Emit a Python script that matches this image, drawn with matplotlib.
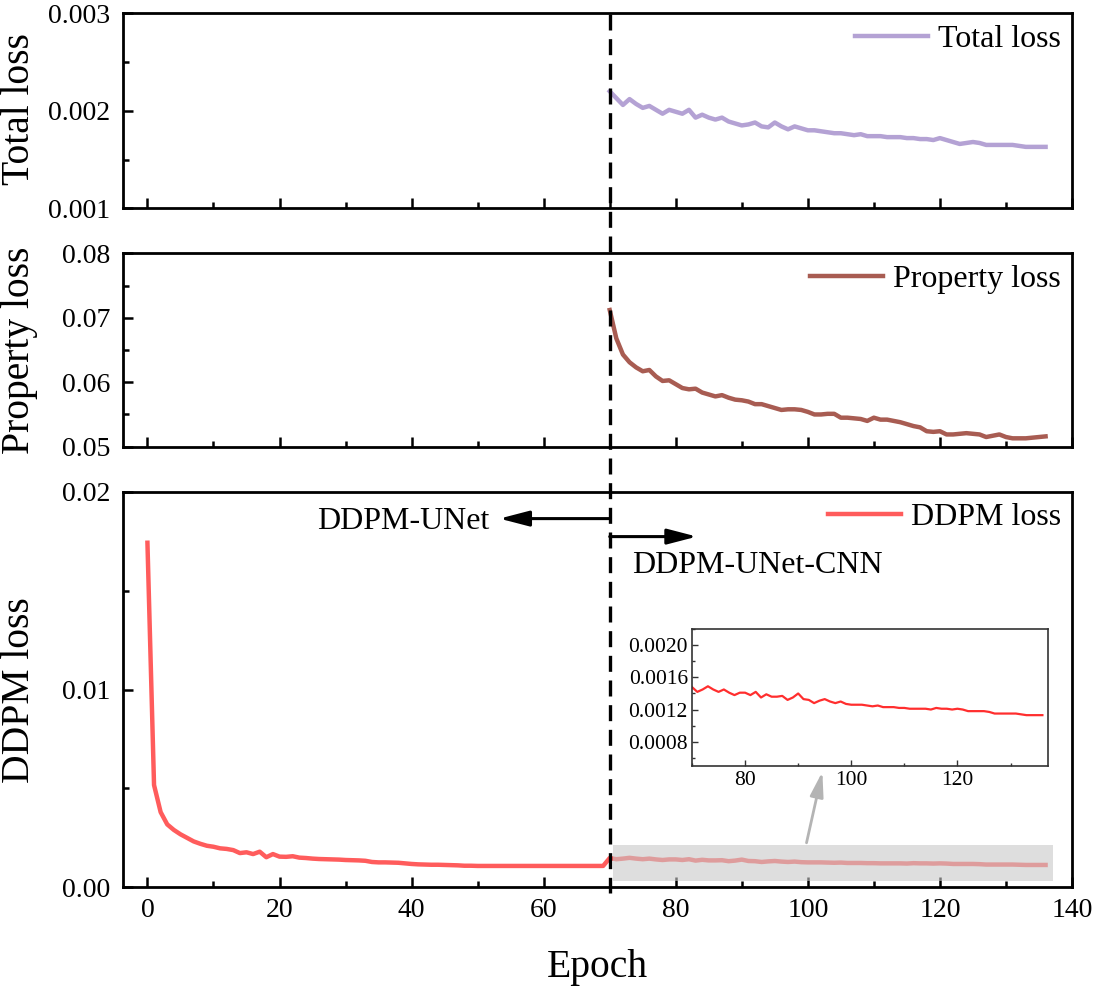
import numpy as np
import matplotlib
matplotlib.use("Agg")
import matplotlib.pyplot as plt
from matplotlib.ticker import MultipleLocator, StrMethodFormatter
from matplotlib.transforms import blended_transform_factory
from matplotlib.patches import Rectangle
from matplotlib.lines import Line2D

plt.rcParams['font.family'] = ['Liberation Serif', 'DejaVu Serif']
plt.rcParams['mathtext.fontset'] = 'stix'

# ---------------- data ----------------
switch_epoch = 70

total_loss = [
    0.00220, 0.00213, 0.00206, 0.00212, 0.00207, 0.00203, 0.00205, 0.00201, 0.00197, 0.00201,
    0.00199, 0.00197, 0.00201, 0.00193, 0.00196, 0.00193, 0.00191, 0.00193, 0.00189, 0.00187,
    0.00185, 0.00186, 0.00188, 0.00184, 0.00183, 0.00188, 0.00184, 0.00181, 0.00184, 0.00182,
    0.00180, 0.00180, 0.00179, 0.00178, 0.00177, 0.00177, 0.00176, 0.00175, 0.00176, 0.00174,
    0.00174, 0.00174, 0.00173, 0.00173, 0.00173, 0.00172, 0.00172, 0.00171, 0.00171, 0.00170,
    0.00172, 0.00170, 0.00168, 0.00166, 0.00167, 0.00168, 0.00167, 0.00165, 0.00165, 0.00165,
    0.00165, 0.00165, 0.00164, 0.00163, 0.00163, 0.00163, 0.00163,
]

property_loss = [
    0.0712, 0.0668, 0.0643, 0.0631, 0.0623, 0.0617, 0.0619, 0.0609, 0.0602, 0.0603,
    0.0597, 0.0591, 0.0589, 0.0590, 0.0584, 0.0581, 0.0578, 0.0580, 0.0576, 0.0573,
    0.0572, 0.0570, 0.0566, 0.0566, 0.0563, 0.0560, 0.0557, 0.0558, 0.0558, 0.0557,
    0.0554, 0.0550, 0.0550, 0.0551, 0.0551, 0.0545, 0.0545, 0.0544, 0.0543, 0.0540,
    0.0545, 0.0542, 0.0542, 0.0540, 0.0538, 0.0535, 0.0532, 0.0530, 0.0524, 0.0523,
    0.0524, 0.0519, 0.0519, 0.0520, 0.0521, 0.0520, 0.0519, 0.0515, 0.0517, 0.0519,
    0.0515, 0.0513, 0.0513, 0.0513, 0.0514, 0.0515, 0.0516,
]

ddpm_loss = [
    0.01742, 0.00517, 0.00380, 0.00318, 0.00290, 0.00268, 0.00250, 0.00232, 0.00220, 0.00210,
    0.00205, 0.00197, 0.00194, 0.00188, 0.00173, 0.00177, 0.00168, 0.00180, 0.00152, 0.00168,
    0.00155, 0.00154, 0.00157, 0.00150, 0.00148, 0.00145, 0.00143, 0.00142, 0.00141, 0.00140,
    0.00138, 0.00137, 0.00136, 0.00134, 0.00128, 0.00126, 0.00126, 0.00125, 0.00124, 0.00121,
    0.00118, 0.00116, 0.00115, 0.00114, 0.00114, 0.00113, 0.00112, 0.00111, 0.00109, 0.00109,
    0.00108, 0.00108, 0.00108, 0.00108, 0.00108, 0.00108, 0.00108, 0.00108, 0.00108, 0.00108,
    0.00108, 0.00108, 0.00108, 0.00108, 0.00108, 0.00108, 0.00108, 0.00108, 0.00108, 0.00108,
    0.00148, 0.00142, 0.00145, 0.00149, 0.00145, 0.00142, 0.00145, 0.00141, 0.00138, 0.00141,
    0.00141, 0.00138, 0.00142, 0.00135, 0.00139, 0.00136, 0.00136, 0.00137, 0.00132, 0.00135,
    0.00140, 0.00133, 0.00132, 0.00128, 0.00131, 0.00133, 0.00130, 0.00128, 0.00130, 0.00127,
    0.00126, 0.00126, 0.00126, 0.00125, 0.00124, 0.00125, 0.00123, 0.00123, 0.00123, 0.00122,
    0.00122, 0.00121, 0.00121, 0.00121, 0.00121, 0.00120, 0.00122, 0.00121, 0.00121, 0.00120,
    0.00121, 0.00120, 0.00118, 0.00118, 0.00118, 0.00118, 0.00117, 0.00115, 0.00115, 0.00115,
    0.00115, 0.00115, 0.00114, 0.00113, 0.00113, 0.00113, 0.00113,
]

epochs_ddpm = np.arange(len(ddpm_loss))
epochs_cnn = switch_epoch + np.arange(len(total_loss))

x_ticks = [0, 20, 40, 60, 80, 100, 120, 140]
inset_x_ticks = [80, 100, 120]
inset_y_ticks = [0.0008, 0.0012, 0.0016, 0.0020]

# ---------------- styling ----------------
c_total = '#B4A2D4'
c_prop = '#A85C52'
c_ddpm = '#FF5C5C'
c_inset = '#FF2E2E'

W, H = 1100, 994
fig = plt.figure(figsize=(W / 100, H / 100), dpi=100)

left, width = 123 / W, (1072 - 123) / W
ax1 = fig.add_axes([left, 1 - 208.3 / H, width, 195 / H])
ax2 = fig.add_axes([left, 1 - 446.7 / H, width, 193.4 / H])
ax3 = fig.add_axes([left, 1 - 887.3 / H, width, 395.6 / H])

for ax in (ax1, ax2, ax3):
    ax.set_xlim(-3.7, 140)
    ax.set_xticks(x_ticks)
    ax.xaxis.set_minor_locator(MultipleLocator(10))
    ax.tick_params(which='both', direction='in', top=False, right=False,
                   labelsize=20, width=1.8)
    ax.tick_params(which='major', length=7)
    ax.tick_params(which='minor', length=4.5)
    ax.tick_params(axis='x', pad=8)
    ax.tick_params(axis='y', pad=9)
    for s in ax.spines.values():
        s.set_linewidth(2.0)

# top panel
ax1.plot(epochs_cnn, total_loss, color=c_total, lw=3.2, label='Total loss')
ax1.set_ylim(0.001, 0.003)
ax1.set_yticks([0.001, 0.002, 0.003])
ax1.yaxis.set_minor_locator(MultipleLocator(0.0005))
ax1.yaxis.set_major_formatter(StrMethodFormatter('{x:.3f}'))
ax1.tick_params(axis='x', labelbottom=False)

# middle panel
ax2.plot(epochs_cnn, property_loss, color=c_prop, lw=3.2, label='Property loss')
ax2.set_ylim(0.05, 0.08)
ax2.set_yticks([0.05, 0.06, 0.07, 0.08])
ax2.yaxis.set_minor_locator(MultipleLocator(0.005))
ax2.yaxis.set_major_formatter(StrMethodFormatter('{x:.2f}'))
ax2.tick_params(axis='x', labelbottom=False)

# bottom panel
ax3.plot(epochs_ddpm, ddpm_loss, color=c_ddpm, lw=3.2, label='DDPM loss')
ax3.set_ylim(0.0, 0.02)
ax3.set_yticks([0.0, 0.01, 0.02])
ax3.yaxis.set_minor_locator(MultipleLocator(0.005))
ax3.yaxis.set_major_formatter(StrMethodFormatter('{x:.2f}'))

# gray highlight box
ax3.add_patch(Rectangle((switch_epoch + 0.5, 0.00032), 66.6, 0.00182,
                        facecolor='#c8c8c8', alpha=0.6, edgecolor='none', zorder=3))

for ax in (ax1, ax2, ax3):
    ax.legend(loc='upper right', frameon=False, fontsize=23, handlelength=2.3,
              handletextpad=0.3, borderaxespad=0.15, borderpad=0.2)

# annotations
ax3.annotate('', xy=(53.3, 0.01864), xytext=(switch_epoch, 0.01864),
             arrowprops=dict(arrowstyle='-|>,head_length=1.0,head_width=0.26',
                             mutation_scale=18, color='black', lw=2.2,
                             shrinkA=0, shrinkB=0))
ax3.text(38.7, 0.01847, 'DDPM-UNet', fontsize=23, ha='center', va='center')
ax3.annotate('', xy=(83.2, 0.01773), xytext=(switch_epoch, 0.01773),
             arrowprops=dict(arrowstyle='-|>,head_length=1.0,head_width=0.26',
                             mutation_scale=18, color='black', lw=2.2,
                             shrinkA=0, shrinkB=0))
ax3.text(92.3, 0.01629, 'DDPM-UNet-CNN', fontsize=23, ha='center', va='center')

# gray arrow pointing to inset
ax3.annotate('', xy=(102.2, 0.00584), xytext=(99.8, 0.00225),
             arrowprops=dict(arrowstyle='-|>,head_length=1.0,head_width=0.27',
                             mutation_scale=15, color='#b4b4b4', lw=2.0,
                             shrinkA=0, shrinkB=0), zorder=4)

# dashed switch line across all panels
trans = blended_transform_factory(ax3.transData, fig.transFigure)
fig.add_artist(Line2D([switch_epoch, switch_epoch], [1 - 14 / H, 1 - 893 / H],
                      transform=trans, color='black', lw=2.4,
                      linestyle=(0, (4.8, 2.6)), zorder=10))

# inset
axin = fig.add_axes([692 / W, 1 - 765.7 / H, 355.7 / W, 136.4 / H])
axin.plot(epochs_ddpm[switch_epoch:], ddpm_loss[switch_epoch:], color=c_inset, lw=1.6)
axin.set_xlim(70, 137)
axin.set_ylim(0.0005, 0.0022)
axin.set_xticks(inset_x_ticks)
axin.set_yticks(inset_y_ticks)
axin.xaxis.set_minor_locator(MultipleLocator(10))
axin.yaxis.set_minor_locator(MultipleLocator(0.0002))
axin.yaxis.set_major_formatter(StrMethodFormatter('{x:.4f}'))
axin.tick_params(which='both', direction='in', top=False, right=False,
                 labelsize=15.5, width=1.0, color='#333333')
axin.tick_params(which='major', length=4)
axin.tick_params(which='minor', length=2.5)
axin.tick_params(axis='x', pad=4)
axin.tick_params(axis='y', pad=3)
for s in axin.spines.values():
    s.set_linewidth(1.2)
    s.set_color('#333333')

# axis labels
fig.text(20 / W, 1 - 109 / H, 'Total loss', rotation=90, ha='center', va='center', fontsize=28.5)
fig.text(20 / W, 1 - 350 / H, 'Property loss', rotation=90, ha='center', va='center', fontsize=28.5)
fig.text(20 / W, 1 - 690 / H, 'DDPM loss', rotation=90, ha='center', va='center', fontsize=28.5)
fig.text(597 / W, 1 - 968 / H, 'Epoch', ha='center', va='center', fontsize=28.5)

fig.savefig('out.png', dpi=100)
